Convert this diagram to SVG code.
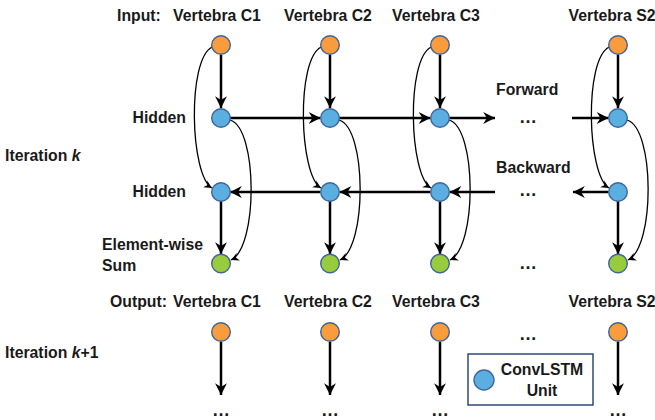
<svg xmlns="http://www.w3.org/2000/svg" width="655" height="420" viewBox="0 0 655 420">
<style>
text{font-family:"Liberation Sans",Arial,sans-serif;font-weight:bold;font-size:15.8px;fill:#1a1a1a}
.dots{font-size:18px}
.in{fill:#f89c3c;stroke:#41659b;stroke-width:1.4}
.hid{fill:#5aaee0;stroke:#41659b;stroke-width:1.4}
.sum{fill:#98cc3c;stroke:#41659b;stroke-width:1.4}
.thick{stroke:#000;stroke-width:2.5;fill:none;marker-end:url(#ah)}
.thin{stroke:#000;stroke-width:1.3;fill:none;marker-end:url(#ahs)}
</style>
<defs>
<marker id="ah" markerUnits="userSpaceOnUse" markerWidth="14" markerHeight="14" viewBox="-12 -6 13 12" refX="0" refY="0" orient="auto">
<path d="M0,0 L-11,-5.5 L-7.5,0 L-11,5.5 Z" fill="#000"/>
</marker>
<marker id="ahs" markerUnits="userSpaceOnUse" markerWidth="10" markerHeight="10" viewBox="-9 -5 10 10" refX="0" refY="0" orient="auto">
<path d="M0,0 L-8,-4 L-5.5,0 L-8,4 Z" fill="#000"/>
</marker>
</defs>

<g id="labels">
<text x="117" y="21">Input:</text>
<text x="217" y="21" text-anchor="middle">Vertebra C1</text>
<text x="328" y="21" text-anchor="middle">Vertebra C2</text>
<text x="436" y="21" text-anchor="middle">Vertebra C3</text>
<text x="612" y="21" text-anchor="middle">Vertebra S2</text>
<text x="186" y="123" text-anchor="end">Hidden</text>
<text x="186" y="197" text-anchor="end">Hidden</text>
<text x="5" y="161">Iteration <tspan font-style="italic">k</tspan></text>
<text x="102" y="250">Element-wise</text>
<text x="102" y="271">Sum</text>
<text x="110" y="307">Output:</text>
<text x="217" y="307" text-anchor="middle">Vertebra C1</text>
<text x="328" y="307" text-anchor="middle">Vertebra C2</text>
<text x="436" y="307" text-anchor="middle">Vertebra C3</text>
<text x="612" y="307" text-anchor="middle">Vertebra S2</text>
<text x="5" y="358">Iteration <tspan font-style="italic">k</tspan>+1</text>
<text x="496" y="95">Forward</text>
<text x="496" y="173">Backward</text>
<text class="dots" x="528" y="123" text-anchor="middle">…</text>
<text class="dots" x="528" y="196" text-anchor="middle">…</text>
<text class="dots" x="528" y="269" text-anchor="middle">…</text>
<text class="dots" x="528" y="340" text-anchor="middle">…</text>
<text class="dots" x="221" y="416" text-anchor="middle">…</text>
<text class="dots" x="330" y="416" text-anchor="middle">…</text>
<text class="dots" x="440" y="416" text-anchor="middle">…</text>
<text class="dots" x="618" y="416" text-anchor="middle">…</text>
</g>

<g id="connectors">
<line class="thick" x1="221" y1="55" x2="221" y2="108"/>
<line class="thick" x1="330" y1="55" x2="330" y2="108"/>
<line class="thick" x1="440" y1="55" x2="440" y2="108"/>
<line class="thick" x1="618" y1="55" x2="618" y2="108"/>
<line class="thick" x1="221" y1="201" x2="221" y2="254"/>
<line class="thick" x1="330" y1="201" x2="330" y2="254"/>
<line class="thick" x1="440" y1="201" x2="440" y2="254"/>
<line class="thick" x1="618" y1="201" x2="618" y2="254"/>
<line class="thick" x1="221" y1="342" x2="221" y2="395"/>
<line class="thick" x1="330" y1="342" x2="330" y2="395"/>
<line class="thick" x1="440" y1="342" x2="440" y2="395"/>
<line class="thick" x1="618" y1="342" x2="618" y2="395"/>
<line class="thick" x1="230" y1="118" x2="320.5" y2="118"/>
<line class="thick" x1="339.5" y1="118" x2="430.5" y2="118"/>
<line class="thick" x1="449.5" y1="118" x2="495" y2="118"/>
<line class="thick" x1="572" y1="118" x2="608.5" y2="118"/>
<line class="thick" x1="608.5" y1="192" x2="573" y2="192"/>
<line class="thick" x1="495" y1="192" x2="449.5" y2="192"/>
<line class="thick" x1="430.5" y1="192" x2="339.5" y2="192"/>
<line class="thick" x1="320.5" y1="192" x2="230" y2="192"/>
<path class="thin" d="M212,47 C187,60 190,175 212,188"/>
<path class="thin" d="M321,47 C296,60 299,175 321,188"/>
<path class="thin" d="M431,47 C406,60 409,175 431,188"/>
<path class="thin" d="M609,47 C584,60 587,175 609,188"/>
<path class="thin" d="M230,120 C258,128 258,248 231,260"/>
<path class="thin" d="M339,120 C367,128 367,248 340,260"/>
<path class="thin" d="M449,120 C477,128 477,248 450,260"/>
<path class="thin" d="M627,120 C655,128 655,248 628,260"/>
</g>

<g id="nodes">
<g id="c1"><circle class="in" cx="221" cy="45" r="9.3"/><circle class="hid" cx="221" cy="118" r="9.3"/><circle class="hid" cx="221" cy="192" r="9.3"/><circle class="sum" cx="221" cy="263.5" r="9.3"/><circle class="in" cx="221" cy="332" r="9.3"/></g>
<g id="c2"><circle class="in" cx="330" cy="45" r="9.3"/><circle class="hid" cx="330" cy="118" r="9.3"/><circle class="hid" cx="330" cy="192" r="9.3"/><circle class="sum" cx="330" cy="263.5" r="9.3"/><circle class="in" cx="330" cy="332" r="9.3"/></g>
<g id="c3"><circle class="in" cx="440" cy="45" r="9.3"/><circle class="hid" cx="440" cy="118" r="9.3"/><circle class="hid" cx="440" cy="192" r="9.3"/><circle class="sum" cx="440" cy="263.5" r="9.3"/><circle class="in" cx="440" cy="332" r="9.3"/></g>
<g id="s2"><circle class="in" cx="618" cy="45" r="9.3"/><circle class="hid" cx="618" cy="118" r="9.3"/><circle class="hid" cx="618" cy="192" r="9.3"/><circle class="sum" cx="618" cy="263.5" r="9.3"/><circle class="in" cx="618" cy="332" r="9.3"/></g>
</g>

<g id="legend">
<rect x="468" y="354" width="125" height="51" fill="#fff" stroke="#2e4a7a" stroke-width="1.5"/>
<circle class="hid" cx="484" cy="380" r="10"/>
<text x="542" y="375" text-anchor="middle">ConvLSTM</text>
<text x="542" y="396" text-anchor="middle">Unit</text>
</g>
</svg>
